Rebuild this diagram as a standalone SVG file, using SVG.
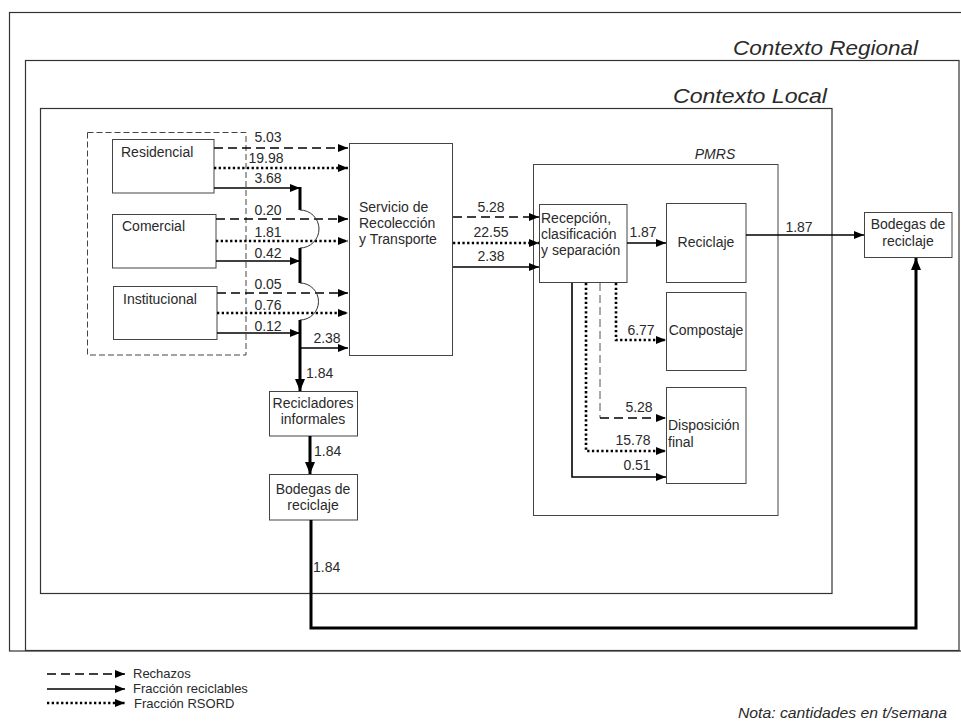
<svg xmlns="http://www.w3.org/2000/svg" width="961" height="726" viewBox="0 0 961 726">
<defs>
<style>
text{font-family:"Liberation Sans",Arial,sans-serif;font-size:14px;fill:#2a2a2a}
.it{font-style:italic}
.mid{text-anchor:middle}
.leg{font-size:13px}
.box{fill:#fff;stroke:#444;stroke-width:1}
.frame{fill:none;stroke:#333;stroke-width:1.2}
.sol{fill:none;stroke:#000;stroke-width:1.6}
.thk{fill:none;stroke:#000;stroke-width:3}
.das{fill:none;stroke:#000;stroke-width:1.6;stroke-dasharray:9 5}
.dot{fill:none;stroke:#000;stroke-width:2.6;stroke-dasharray:2.3 2.4}
.thin{fill:none;stroke:#333;stroke-width:1}
</style>
<marker id="ah" markerUnits="userSpaceOnUse" markerWidth="10" markerHeight="8" refX="10" refY="4" orient="auto"><path d="M0,0L10,4L0,8z" fill="#000"/></marker>
<marker id="ahb" markerUnits="userSpaceOnUse" markerWidth="12" markerHeight="10" refX="12" refY="5" orient="auto"><path d="M0,0L12,5L0,10z" fill="#000"/></marker>
</defs>
<rect width="961" height="726" fill="#fff"/>
<g id="frames">
<rect class="frame" x="9.5" y="12.5" width="960" height="638.5"/>
<rect class="frame" x="25.5" y="60.5" width="933.5" height="590"/>
<rect class="frame" x="40.5" y="108.5" width="791.5" height="485"/>
<text class="it" x="733" y="55" style="font-size:21px" textLength="185" lengthAdjust="spacingAndGlyphs">Contexto Regional</text>
<text class="it" x="673" y="103" style="font-size:21px" textLength="154" lengthAdjust="spacingAndGlyphs">Contexto Local</text>
<rect x="87.5" y="132.5" width="158.5" height="222.5" fill="none" stroke="#444" stroke-width="1" stroke-dasharray="6 3"/>
<rect class="frame" x="533.5" y="164.5" width="244.5" height="351" style="stroke:#444;stroke-width:1"/>
<text class="it mid" x="715" y="159">PMRS</text>
</g>
<g id="residencial"><rect class="box" x="112.5" y="139.5" width="101.5" height="53.5"/><text x="121" y="157">Residencial</text></g>
<g id="comercial"><rect class="box" x="112.5" y="214.5" width="103.5" height="53.5"/><text x="122" y="231">Comercial</text></g>
<g id="institucional"><rect class="box" x="113.5" y="286.5" width="103.5" height="53"/><text x="123" y="304">Institucional</text></g>
<g id="servicio"><rect class="box" x="349.5" y="143.5" width="103" height="212"/><text x="359" y="212">Servicio de</text><text x="359" y="228">Recolección</text><text x="359" y="244">y Transporte</text></g>
<g id="recicladores"><rect class="box" x="269.5" y="391.5" width="88" height="44.5"/><text class="mid" x="313" y="408">Recicladores</text><text class="mid" x="313" y="424">informales</text></g>
<g id="bodegas-local"><rect class="box" x="269.5" y="474.5" width="88" height="45.5"/><text class="mid" x="313" y="494">Bodegas de</text><text class="mid" x="313" y="510">reciclaje</text></g>
<g id="recepcion"><rect class="box" x="539.5" y="204.5" width="87.5" height="78"/><text x="541" y="223">Recepción,</text><text x="541" y="239">clasificación</text><text x="541" y="255">y separación</text></g>
<g id="reciclaje"><rect class="box" x="666.5" y="203.5" width="79.5" height="79"/><text class="mid" x="706" y="247">Reciclaje</text></g>
<g id="compostaje"><rect class="box" x="666.5" y="292.5" width="79.5" height="78"/><text class="mid" x="706" y="335">Compostaje</text></g>
<g id="disposicion"><rect class="box" x="666.5" y="387.5" width="79.5" height="96"/><text x="668" y="430">Disposición</text><text x="668" y="447">final</text></g>
<g id="bodegas-regional"><rect class="box" x="864.5" y="212.5" width="87.5" height="45"/><text class="mid" x="908" y="229">Bodegas de</text><text class="mid" x="908" y="246">reciclaje</text></g>
<g id="connectors">
<path class="das" d="M214,148H348" marker-end="url(#ah)"/>
<path class="dot" d="M214,168H348" marker-end="url(#ah)"/>
<path class="sol" d="M214,188H300" marker-end="url(#ah)"/>
<path class="das" d="M216,219H348" marker-end="url(#ah)"/>
<path class="dot" d="M216,241H348" marker-end="url(#ah)"/>
<path class="sol" d="M216,261H300" marker-end="url(#ah)"/>
<path class="das" d="M217,293H348" marker-end="url(#ah)"/>
<path class="dot" d="M217,313H348" marker-end="url(#ah)"/>
<path class="sol" d="M217,333H300" marker-end="url(#ah)"/>
<path class="thk" d="M300,187V210"/>
<path class="thin" d="M300,210A19,19 0 0 1 300,248"/>
<path class="thk" d="M300,248V283"/>
<path class="thin" d="M300,283A18.5,18.5 0 0 1 300,320"/>
<path class="thk" d="M300,320V391" marker-end="url(#ahb)"/>
<path class="sol" d="M300,348H348" marker-end="url(#ah)"/>
<path class="thk" d="M310,436V474" marker-end="url(#ahb)"/>
<path class="thk" d="M311,520V628H916V258" marker-end="url(#ahb)"/>
<path class="das" d="M453,217H539" marker-end="url(#ah)"/>
<path class="dot" d="M453,243H539" marker-end="url(#ah)"/>
<path class="sol" d="M453,267H539" marker-end="url(#ah)"/>
<path class="sol" d="M627,243H666" marker-end="url(#ah)"/>
<path class="sol" d="M746,235H864" marker-end="url(#ah)"/>
<path class="sol" d="M572,283V477H666" marker-end="url(#ah)"/>
<path class="dot" d="M586,283V451H666" marker-end="url(#ah)"/>
<path fill="none" stroke="#555" stroke-width="1" stroke-dasharray="8 4" d="M600,283V418"/>
<path class="das" d="M600,418H666" marker-end="url(#ah)"/>
<path class="dot" d="M616,283V340H666" marker-end="url(#ah)"/>
</g>
<g id="labels">
<text class="mid" x="268" y="142">5.03</text>
<text class="mid" x="266" y="163">19.98</text>
<text class="mid" x="268" y="183">3.68</text>
<text class="mid" x="268" y="215">0.20</text>
<text class="mid" x="268" y="237">1.81</text>
<text class="mid" x="268" y="258">0.42</text>
<text class="mid" x="268" y="289">0.05</text>
<text class="mid" x="268" y="310">0.76</text>
<text class="mid" x="268" y="331">0.12</text>
<text class="mid" x="327" y="343">2.38</text>
<text x="306" y="378">1.84</text>
<text x="314" y="456">1.84</text>
<text x="313" y="572">1.84</text>
<text class="mid" x="491" y="212">5.28</text>
<text class="mid" x="491" y="237">22.55</text>
<text class="mid" x="491" y="261">2.38</text>
<text class="mid" x="643" y="237">1.87</text>
<text class="mid" x="799" y="232">1.87</text>
<text class="mid" x="641" y="335">6.77</text>
<text class="mid" x="639" y="412">5.28</text>
<text class="mid" x="633" y="445">15.78</text>
<text class="mid" x="637" y="470">0.51</text>
</g>
<g id="legend">
<path class="das" d="M47,674H125" marker-end="url(#ah)"/>
<path class="sol" d="M47,689H125" marker-end="url(#ah)"/>
<path class="dot" d="M47,703H125" marker-end="url(#ah)"/>
<text class="leg" x="133" y="678">Rechazos</text>
<text class="leg" x="133" y="693">Fracción reciclables</text>
<text class="leg" x="134" y="708">Fracción RSORD</text>
<text class="it" x="738" y="718" style="font-size:15px" textLength="209" lengthAdjust="spacingAndGlyphs">Nota: cantidades en t/semana</text>
</g>
</svg>
